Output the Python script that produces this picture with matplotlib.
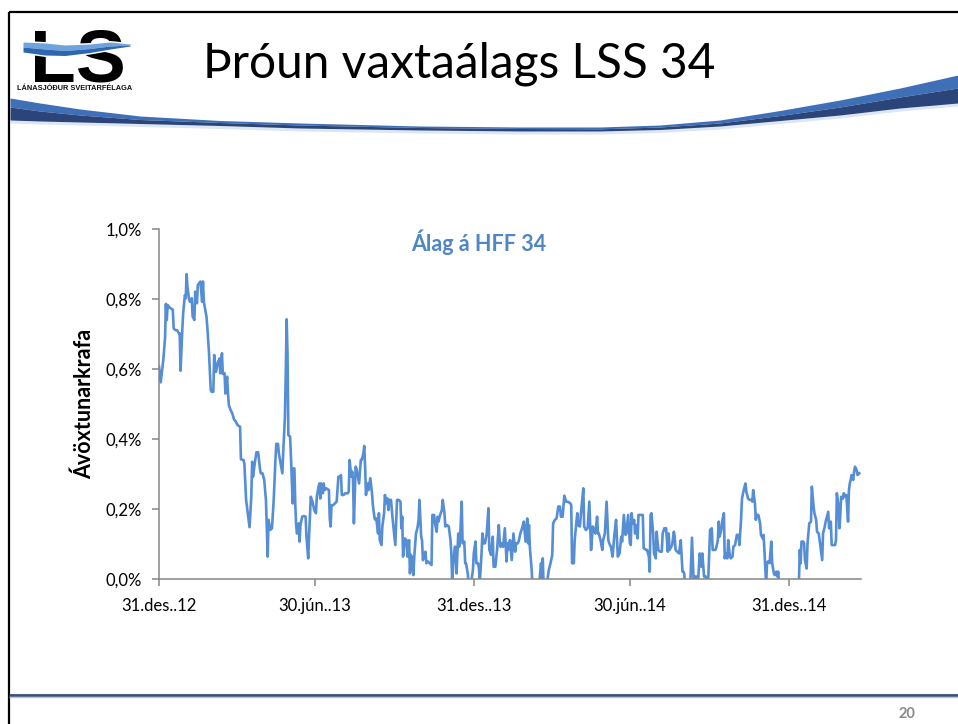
import matplotlib
matplotlib.use("Agg")
import matplotlib.pyplot as plt
import numpy as np
import pandas as pd

# ---------------- data ----------------
start_date = "2012-12-31"
end_day = 814

day_offsets = [
    0, 2, 5, 7, 8, 9, 10, 12, 14, 16, 17, 19, 21, 23, 24, 25, 27, 28, 30, 31,
    32, 33, 35, 36, 38, 39, 41, 42, 44, 45, 48, 50, 51, 52, 53, 55, 56, 58, 60, 61,
    63, 64, 66, 68, 70, 71, 73, 74, 76, 77, 79, 80, 81, 83, 85, 87, 89, 91, 94, 95,
    98, 99, 101, 103, 105, 107, 108, 109, 111, 113, 115, 117, 118, 120, 122, 124, 125, 126, 127, 129,
    131, 133, 135, 136, 138, 139, 141, 143, 144, 146, 147, 148, 149, 150, 152, 153, 155, 156, 157, 158,
    159, 160, 162, 163, 164, 166, 168, 170, 171, 173, 174, 176, 178, 180, 182, 183, 185, 186, 187, 188,
    190, 191, 192, 194, 197, 198, 199, 200, 202, 204, 206, 208, 210, 211, 212, 214, 216, 219, 220, 221,
    223, 224, 225, 226, 228, 229, 230, 232, 234, 235, 237, 238, 239, 240, 241, 242, 243, 245, 247, 248,
    250, 251, 252, 254, 255, 256, 258, 259, 261, 262,
    263, 265, 266, 267, 269, 271, 273, 274, 276, 278, 280, 281, 282, 283, 285, 287, 288, 290, 291, 292,
    293, 295, 296, 298, 300, 301, 302, 304, 305, 306, 307, 309, 310, 312, 314, 316, 317, 319, 320, 322,
    323, 324, 326, 328, 329, 331, 332, 334, 336, 338, 339, 340, 341, 343, 344, 345, 347, 348, 349, 351,
    352, 354, 355, 356, 358, 359, 361, 362, 364, 365, 367, 368, 370, 371, 372, 374, 375, 376, 378, 380,
    382, 383, 384, 385, 387, 388, 390, 392, 394, 395, 396, 398, 399, 401, 403, 404, 405, 407, 409, 411,
    413, 414, 416, 417, 419, 421, 423, 425, 427, 428, 429, 430, 432, 433, 435, 438, 441, 443, 444, 445,
    446, 448, 450, 452, 454, 456, 457, 459, 461, 463, 465, 466, 468, 470, 472, 474, 477, 478, 479, 481,
    482, 485, 486, 488, 490, 492, 493, 495, 497, 499, 501, 503, 505, 506, 508, 509, 510, 512, 514, 515,
    517, 519, 521, 522, 524, 526, 528, 530, 532, 534, 536, 537, 539, 541, 542, 544, 546,
    547, 548, 549, 551, 552, 553, 555, 556, 558, 560, 561, 562, 565, 566, 568, 569, 570, 571, 573, 574,
    576, 577, 579, 581, 583, 584, 586, 588, 590, 591, 592, 594, 595, 597, 598, 599, 601, 603, 605, 606,
    607, 608, 609, 610, 612, 614, 616, 618, 619, 620, 622, 623, 625, 627, 629, 630, 632, 634, 636, 637,
    639, 641, 642, 645, 646, 648, 649, 650, 652, 653, 655, 656, 657, 659, 660, 662, 663, 665, 666, 668,
    670, 672, 673, 675, 676, 678, 680, 681, 683, 685, 687, 688, 689, 691, 692, 693, 695, 697, 698, 700,
    701, 702, 704, 705, 706, 708, 710, 711, 713, 714, 716, 717, 718, 719, 722, 728, 734, 740, 742, 743,
    744, 745, 747, 748, 749, 751, 752, 754, 756, 757, 759, 760, 762, 763, 765, 767, 769, 770, 772, 773,
    775, 776, 777, 779, 780, 782, 784, 785, 786, 788, 789, 790, 791, 793, 794, 796, 797, 799, 800, 801,
    802, 803, 805, 806, 807, 809, 810, 812,
]

spread_pct = [
    0.607, 0.562, 0.626, 0.688, 0.786, 0.740, 0.783, 0.776, 0.773, 0.769, 0.716, 0.711, 0.711, 0.702, 0.702, 0.595, 0.711, 0.759, 0.811, 0.802,
    0.871, 0.835, 0.797, 0.792, 0.802, 0.750, 0.740, 0.821, 0.788, 0.840, 0.850, 0.792, 0.850, 0.792, 0.778, 0.750, 0.721, 0.645, 0.540, 0.535,
    0.535, 0.640, 0.592, 0.616, 0.630, 0.588, 0.645, 0.586, 0.588, 0.530, 0.578, 0.530, 0.497, 0.483, 0.473, 0.456, 0.450, 0.440, 0.435, 0.342,
    0.340, 0.330, 0.226, 0.188, 0.148, 0.235, 0.335, 0.292, 0.330, 0.362, 0.362, 0.316, 0.302, 0.302, 0.283, 0.226, 0.140, 0.064, 0.169, 0.140,
    0.145, 0.226, 0.340, 0.386, 0.386, 0.359, 0.330, 0.302, 0.359, 0.464, 0.588, 0.742, 0.645, 0.411, 0.407, 0.350, 0.216, 0.316, 0.316, 0.216,
    0.154, 0.130, 0.159, 0.107, 0.154, 0.178, 0.180, 0.178, 0.121, 0.059, 0.121, 0.235, 0.221, 0.197, 0.188, 0.235, 0.264, 0.273, 0.230, 0.273,
    0.245, 0.273, 0.254, 0.259, 0.254, 0.173, 0.150, 0.211, 0.211, 0.216, 0.221, 0.292, 0.292, 0.297, 0.240, 0.240, 0.245, 0.245, 0.250, 0.340,
    0.292, 0.307, 0.283, 0.159, 0.321, 0.316, 0.302, 0.273, 0.340, 0.340, 0.359, 0.380, 0.321, 0.240, 0.264, 0.273, 0.254, 0.288, 0.245, 0.211,
    0.173, 0.169, 0.173, 0.130, 0.188, 0.111, 0.097, 0.150, 0.188, 0.240,
    0.216, 0.230, 0.197, 0.226, 0.226, 0.169, 0.121, 0.097, 0.226, 0.226, 0.221, 0.145, 0.178, 0.064, 0.116, 0.111, 0.064, 0.111, 0.016, 0.069,
    0.064, 0.011, 0.064, 0.130, 0.150, 0.169, 0.226, 0.121, 0.111, 0.054, 0.064, 0.078, 0.045, 0.050, 0.045, 0.040, 0.183, 0.183, 0.159, 0.135,
    0.178, 0.164, 0.183, 0.197, 0.226, 0.188, 0.150, 0.154, 0.150, 0.111, 0.073, -0.010, 0.035, 0.092, 0.092, 0.016, 0.130, 0.092, 0.111, 0.221,
    0.102, 0.107, 0.045, 0.045, 0.016, -0.010, -0.020, -0.010, 0.026, 0.073, 0.107, 0.045, 0.045, 0.030, -0.010, 0.073, 0.130, 0.102, 0.102, 0.130,
    0.202, 0.083, 0.078, 0.069, 0.121, 0.035, 0.035, 0.083, 0.154, 0.111, 0.092, 0.102, 0.092, 0.145, 0.050, 0.102, 0.083, 0.111, 0.054, 0.130,
    0.078, 0.102, 0.102, 0.107, 0.130, 0.145, 0.164, 0.107, 0.173, 0.102, 0.154, 0.092, 0.030, -0.010, -0.020, -0.020, -0.010, 0.045, -0.010, 0.059,
    -0.020, -0.020, -0.010, 0.026, 0.045, 0.069, 0.159, 0.169, 0.173, 0.207, 0.207, 0.178, 0.178, 0.238, 0.221, 0.221, 0.216, 0.211, 0.045, 0.045,
    0.111, 0.188, 0.154, 0.150, 0.207, 0.259, 0.150, 0.140, 0.145, 0.221, 0.083, 0.150, 0.135, 0.130, 0.178, 0.130, 0.130, 0.111, 0.083, 0.111,
    0.130, 0.221, 0.111, 0.102, 0.092, 0.064, 0.126, 0.169, 0.064, 0.073, 0.121, 0.107, 0.183, 0.126, 0.130, 0.183, 0.102,
    0.097, 0.188, 0.159, 0.169, 0.130, 0.154, 0.116, 0.183, 0.183, 0.183, 0.183, 0.088, 0.083, 0.083, 0.064, 0.021, 0.183, 0.188, 0.130, 0.073,
    0.059, 0.135, 0.083, 0.078, 0.078, 0.130, 0.145, 0.145, 0.078, 0.130, 0.083, 0.092, 0.097, 0.135, 0.121, 0.083, 0.078, 0.073, 0.111, 0.064,
    0.021, 0.021, 0.016, -0.020, -0.020, -0.020, -0.020, 0.118, 0.054, -0.010, 0.007, 0.007, -0.010, 0.073, 0.035, 0.073, 0.007, 0.007, -0.020, 0.007,
    0.140, 0.145, 0.083, 0.083, 0.088, 0.111, 0.164, 0.121, 0.140, 0.164, 0.188, 0.059, 0.073, 0.059, 0.111, 0.064, 0.059, 0.064, 0.092, 0.097,
    0.126, 0.126, 0.097, 0.173, 0.230, 0.254, 0.273, 0.250, 0.230, 0.226, 0.226, 0.221, 0.254, 0.216, 0.169, 0.183, 0.183, 0.159, 0.126, 0.116,
    0.126, 0.083, -0.020, 0.045, 0.050, 0.045, 0.107, 0.045, 0.016, 0.011, 0.021, 0.007, 0.021, -0.020, -0.040, -0.050, -0.050, -0.030, -0.010, 0.083,
    0.045, 0.107, 0.107, 0.102, 0.054, 0.030, 0.102, 0.159, 0.164, 0.264, 0.207, 0.188, 0.169, 0.135, 0.130, 0.092, 0.054, 0.130, 0.150, 0.164,
    0.183, 0.192, 0.145, 0.164, 0.097, 0.097, 0.097, 0.111, 0.245, 0.207, 0.145, 0.183, 0.235, 0.230, 0.245, 0.235, 0.240, 0.164, 0.254, 0.273,
    0.283, 0.297, 0.283, 0.307, 0.321, 0.311, 0.297, 0.302,
]

tick_days = [0, 181, 365, 546, 730]
tick_labels = ["31.des..12", "30.jún..13", "31.des..13", "30.jún..14", "31.des..14"]
y_ticks = [0.0, 0.2, 0.4, 0.6, 0.8, 1.0]

slide_title = "Þróun vaxtaálags LSS 34"
chart_title = "Álag á HFF 34"
y_label = "Ávöxtunarkrafa"
logo_text = "LS"
logo_sub = "LÁNASJÓÐUR SVEITARFÉLAGA"
page_no = "20"

# ---------------- figure ----------------
W, H = 958, 724
FONT = ["Lato", "DejaVu Sans"]
LOGO_FONT = ["Liberation Sans", "DejaVu Sans"]
plt.rcParams["font.family"] = FONT

fig = plt.figure(figsize=(W / 100, H / 100), dpi=100)
fig.patch.set_facecolor("white")

# decoration layer in pixel coordinates
bg = fig.add_axes([0, 0, 1, 1], zorder=0)
bg.set_xlim(0, W)
bg.set_ylim(H, 0)
bg.axis("off")

# slide frame
bg.plot([9, 9], [12, H], color="black", lw=1.6, solid_capstyle="butt")
bg.plot([9, W], [12, 12], color="black", lw=1.6, solid_capstyle="butt")

# header swoosh
sx = [10, 40, 80, 140, 220, 300, 420, 520, 600, 660, 720, 780, 840, 900, 958]
s_top = [98, 103, 109, 116, 120.5, 123, 126, 127, 127, 125, 120, 110.5, 100, 88, 75]
s_mid = [107, 111, 115, 119.5, 122.5, 125, 127.5, 128.5, 128.8, 127, 123, 115.5, 107, 97, 88]
s_bot = [120, 121, 122, 123.5, 125.5, 128, 130, 131, 131, 129.5, 126, 120.5, 115, 108, 103]
xs = np.linspace(10, W, 600)
yt = np.interp(xs, sx, s_top)
ym = np.interp(xs, sx, s_mid)
yb = np.interp(xs, sx, s_bot)
bg.fill_between(xs, yb, yb + 3, color="#dde6f3", lw=0)
bg.fill_between(xs, yt, ym, color="#3f6fb6", lw=0)
bg.fill_between(xs, ym, yb, color="#2b4479", lw=0)

# logo
bg.text(78, 81, logo_text, fontsize=54, fontweight="bold", family=LOGO_FONT,
        ha="center", va="baseline", color="black")
lx = np.linspace(23, 130, 120)
lk = [23, 45, 65, 90, 110, 130]
l_top = np.interp(lx, lk, [42, 43, 45, 44, 42, 44])
l_mid = np.interp(lx, lk, [47, 49, 50.5, 48.5, 46, 45])
l_bot = np.interp(lx, lk, [52, 55, 55.5, 52.5, 49, 46])
bg.fill_between(lx, l_top - 1.5, l_bot + 1.5, color="white", lw=0, zorder=3)
bg.fill_between(lx, l_top, l_mid, color="#6fa3dc", lw=0, zorder=4)
bg.fill_between(lx, l_mid, l_bot, color="#2f66b0", lw=0, zorder=4)
bg.text(75, 88.5, logo_sub, fontsize=5.3, fontweight="bold", family=LOGO_FONT,
        ha="center", va="center", color="#111111")

# slide title
bg.text(459, 64, slide_title, fontsize=34.5, ha="center", va="center", color="black")

# footer
bg.plot([9, W], [694.5, 694.5], color="#3c4f78", lw=2.0, solid_capstyle="butt")
bg.plot([9, W], [697.3, 697.3], color="#b9c6dc", lw=1.0, solid_capstyle="butt")
bg.text(907, 714, page_no, fontsize=10.5, fontweight="bold", ha="center", va="center", color="#8a8a8a")

# ---------------- chart ----------------
x0, x1, y0, y1 = 159, 861, 229, 579
ax = fig.add_axes([x0 / W, (H - y1) / H, (x1 - x0) / W, (y1 - y0) / H], zorder=1)
ax.patch.set_alpha(0)

start = pd.Timestamp(start_date)
dates = start + pd.to_timedelta(day_offsets, unit="D")
ax.plot(dates, spread_pct, color="#558ed5", lw=1.9, solid_joinstyle="round", zorder=2)

ax.set_xlim(start, start + pd.Timedelta(days=end_day))
ax.set_ylim(0, 1.0)
ax.set_xticks(start + pd.to_timedelta(tick_days, unit="D"))
ax.set_xticklabels(tick_labels)
ax.set_yticks(y_ticks)
ax.set_yticklabels([f"{v:.1f}".replace(".", ",") + "%" for v in y_ticks])

for s in ["top", "right"]:
    ax.spines[s].set_visible(False)
for s in ["left", "bottom"]:
    ax.spines[s].set_color("#868686")
    ax.spines[s].set_linewidth(1.1)
    ax.spines[s].set_zorder(3)
ax.tick_params(axis="both", direction="out", length=5, width=1.1, color="#868686",
               labelsize=12, labelcolor="black")
ax.tick_params(axis="y", pad=7)
ax.tick_params(axis="x", pad=9)

ax.set_ylabel(y_label, fontsize=15.5, fontweight="bold")
ax.yaxis.set_label_coords((95 - x0) / (x1 - x0), 0.5)
ax.text(0.456, 0.963, chart_title, transform=ax.transAxes, fontsize=15.5, fontweight="bold",
        color="#5085c6", ha="center", va="center")

fig.savefig("out.png", dpi=100)
